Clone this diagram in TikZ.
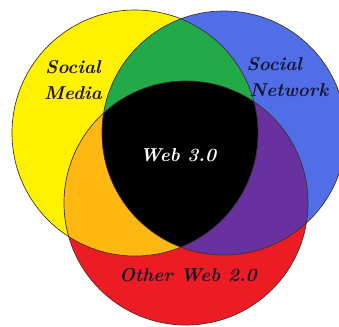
\documentclass[tikz,border=0pt]{standalone}
\usepackage{amsmath}
\usetikzlibrary{shapes, positioning, calc}

\tikzset{vennlabel/.style={font=\fontsize{14}{20}\selectfont\bfseries\itshape, align=center, inner sep=0.75pt, text={rgb, 255:red, 25; green, 20; blue, 45}}}

\begin{document}
\begin{tikzpicture}[x=0.75pt,y=0.75pt,yscale=-1,xscale=1]
	\useasboundingbox (0,0) rectangle (339,326);
	
	%Shape: Circle [Social Media]
	\fill [fill={rgb, 255:red, 255; green, 241; blue, 0 }] (135,133) circle (123);
	%Shape: Circle [Social Network]
	\fill [fill={rgb, 255:red, 79; green, 110; blue, 232 }] (224,133) circle (122);
	%Shape: Circle [Other Web 2.0]
	\fill [fill={rgb, 255:red, 237; green, 28; blue, 36 }] (186,203) circle (122);
	
	%Overlap: yellow and blue
	\begin{scope}
		\clip (135,133) circle (123);
		\fill [fill={rgb, 255:red, 34; green, 170; blue, 72 }] (224,133) circle (122);
	\end{scope}
	%Overlap: yellow and red
	\begin{scope}
		\clip (135,133) circle (123);
		\fill [fill={rgb, 255:red, 255; green, 184; blue, 18 }] (186,203) circle (122);
	\end{scope}
	%Overlap: blue and red
	\begin{scope}
		\clip (224,133) circle (122);
		\fill [fill={rgb, 255:red, 105; green, 48; blue, 160 }] (186,203) circle (122);
	\end{scope}
	%Overlap: all three
	\begin{scope}
		\clip (135,133) circle (123);
		\clip (224,133) circle (122);
		\fill [fill={rgb, 255:red, 0; green, 0; blue, 0 }] (186,203) circle (122);
	\end{scope}
	
	%Outlines
	\draw [color={rgb, 255:red, 60; green, 50; blue, 40 }, line width=0.5] (135,133) circle (123);
	\draw [color={rgb, 255:red, 60; green, 50; blue, 40 }, line width=0.5] (224,133) circle (122);
	\draw [color={rgb, 255:red, 60; green, 50; blue, 40 }, line width=0.5] (186,203) circle (122);
	
	% Text Node
	\node [vennlabel] (socmedia) at (73,80) {Social\\Media};
	% Text Node
	\node [vennlabel] (socnetwork) at (289,77) {\hspace*{-22pt}Social\\Network};
	% Text Node
	\node [vennlabel, text={rgb, 255:red, 255; green, 255; blue, 255 }] (webthree) at (178,155) {Web 3.0};
	% Text Node
	\node [vennlabel] (othertwo) at (188,275) {Other Web 2.0};
	
\end{tikzpicture}
\end{document}
